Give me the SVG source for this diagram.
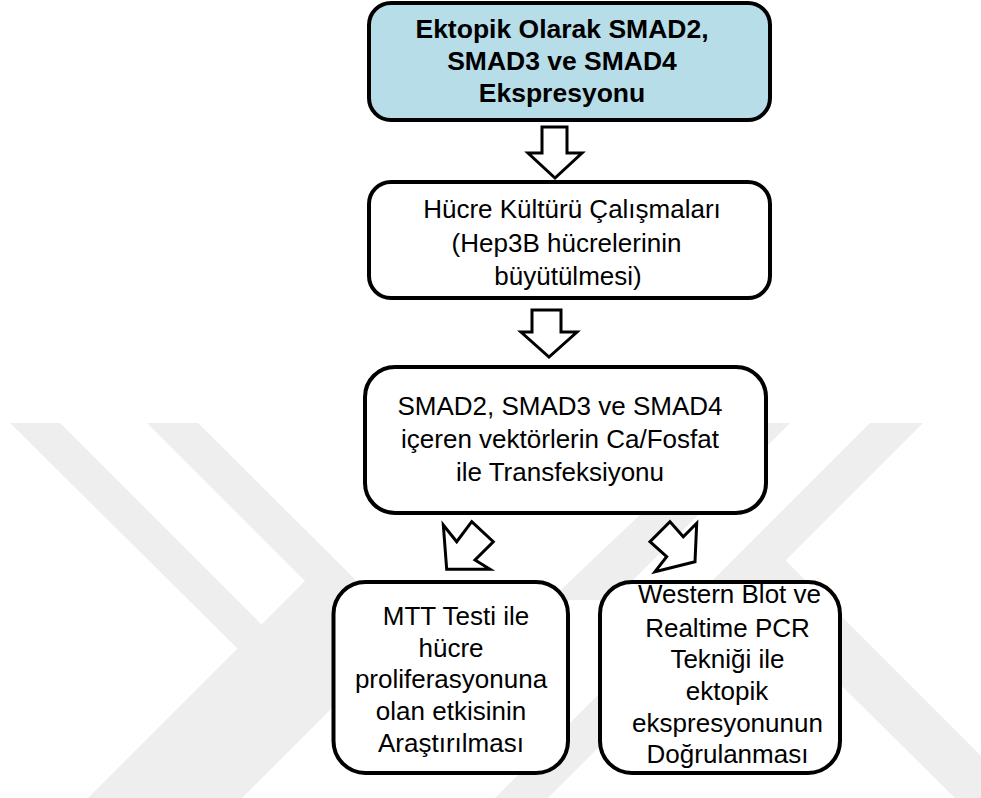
<svg xmlns="http://www.w3.org/2000/svg" width="981" height="798" viewBox="0 0 981 798">
  <style>
    .box { fill: #ffffff; stroke: #000000; stroke-width: 4; }
    .top { fill: #b7dde8; }
    .arrow { fill: #ffffff; stroke: #000000; stroke-width: 3; stroke-linejoin: miter; }
    .t { font-family: "Liberation Sans", Arial, sans-serif; font-size: 26px; fill: #000000; text-anchor: middle; }
    .tb { font-weight: bold; font-size: 26.5px; }
    .wm { fill: #eeeeee; }
  </style>
  <rect width="981" height="798" fill="#ffffff"/>
  <g id="watermark">
    <polygon class="wm" points="10,423 60,423 261.5,624.5 305,581 147,423 198,423 408,632 242,798 88,798 237.5,648.5"/>
    <polygon class="wm" points="870,423 923,423 548,798 495,798"/>
    <polygon class="wm" points="737,423 790,423 613,600 550,600"/>
    <polygon class="wm" points="750,595 785,560 1010,785 981,798 955,798"/>
  </g>
  <g id="connectors">
    <polygon class="arrow" points="542,127 567,127 567,153 582,153 555,178 528,153 542,153"/>
    <polygon class="arrow" points="532,310 561,310 561,332 577,332 549,357 521,332 532,332"/>
    <polygon class="arrow" points="471.7,521.7 493.3,541.7 475,560 490,569.3 446.7,569.3 443.3,525 456.7,541.7"/>
    <polygon class="arrow" points="670,521.7 683.3,536.7 696.7,523.3 695,561.7 655,571.7 666.7,556.7 650,541.7"/>
  </g>
  <g id="node-ektopik">
    <rect class="box top" x="369" y="3" width="401" height="117" rx="22" ry="22"/>
    <text class="t tb" x="562" y="37.5">Ektopik Olarak SMAD2,</text>
    <text class="t tb" x="562" y="69.5">SMAD3 ve SMAD4</text>
    <text class="t tb" x="562" y="101.5">Ekspresyonu</text>
  </g>
  <g id="node-hucre">
    <rect class="box" x="369" y="182" width="401" height="116" rx="22" ry="22"/>
    <text class="t" x="572" y="218">Hücre Kültürü Çalışmaları</text>
    <text class="t" x="566.5" y="251.5">(Hep3B hücrelerinin</text>
    <text class="t" x="568" y="284.5">büyütülmesi)</text>
  </g>
  <g id="node-transfeksiyon">
    <rect class="box" x="365" y="367" width="401" height="146" rx="30" ry="30"/>
    <text class="t" x="560" y="415">SMAD2, SMAD3 ve SMAD4</text>
    <text class="t" x="560" y="448">içeren vektörlerin Ca/Fosfat</text>
    <text class="t" x="560" y="481">ile Transfeksiyonu</text>
  </g>
  <g id="node-mtt">
    <rect class="box" x="333.5" y="582" width="234.5" height="191" rx="32" ry="32"/>
    <text class="t" x="456" y="625">MTT Testi ile</text>
    <text class="t" x="451" y="656.5">hücre</text>
    <text class="t" x="451" y="688">proliferasyonuna</text>
    <text class="t" x="451" y="720">olan etkisinin</text>
    <text class="t" x="451" y="751.5">Araştırılması</text>
  </g>
  <g id="node-western">
    <rect class="box" x="600" y="582" width="240" height="191" rx="32" ry="32"/>
    <text class="t" x="729.5" y="603">Western Blot ve</text>
    <text class="t" x="727.5" y="636.5">Realtime PCR</text>
    <text class="t" x="727.5" y="668">Tekniği ile</text>
    <text class="t" x="727" y="700">ektopik</text>
    <text class="t" x="727.5" y="731.5">ekspresyonunun</text>
    <text class="t" x="727.5" y="763">Doğrulanması</text>
  </g>
</svg>
